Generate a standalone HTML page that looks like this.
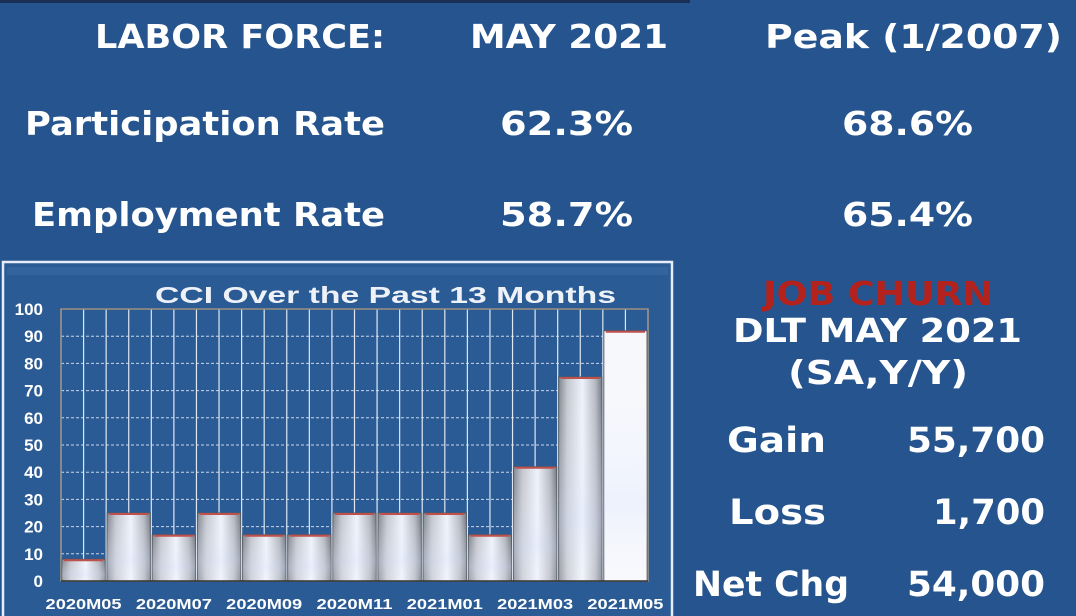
<!DOCTYPE html>
<html><head><meta charset="utf-8"><style>
html,body{margin:0;padding:0;background:#25548e;}
svg{display:block}
</style></head><body>
<svg width="1076" height="616" viewBox="0 0 1076 616" xmlns="http://www.w3.org/2000/svg">
<defs>
<linearGradient id="bar" x1="0" y1="0" x2="1" y2="0">
<stop offset="0" stop-color="#80858f"/><stop offset="0.2" stop-color="#c3c6ce"/><stop offset="0.55" stop-color="#eef2fb"/><stop offset="0.85" stop-color="#b3b7c0"/><stop offset="1" stop-color="#747983"/>
</linearGradient>
<linearGradient id="barv" x1="0" y1="0" x2="0" y2="1">
<stop offset="0" stop-color="#ffffff" stop-opacity="0"/><stop offset="0.7" stop-color="#dfe8ff" stop-opacity="0.4"/><stop offset="1" stop-color="#ffffff" stop-opacity="0.2"/>
</linearGradient>
</defs>
<rect width="1076" height="616" fill="#25548e"/>
<rect x="0" y="0" width="690" height="3" fill="#1a2f55"/>
<g font-family="'DejaVu Sans','Liberation Sans',sans-serif" font-weight="bold" fill="#fff" font-size="33">
<text x="95" y="48" textLength="290" lengthAdjust="spacingAndGlyphs">LABOR FORCE:</text>
<text x="470" y="48" textLength="198" lengthAdjust="spacingAndGlyphs">MAY 2021</text>
<text x="765" y="48" textLength="297" lengthAdjust="spacingAndGlyphs">Peak (1/2007)</text>
<text x="25" y="135" textLength="360" lengthAdjust="spacingAndGlyphs">Participation Rate</text>
<text x="500" y="135" textLength="133" lengthAdjust="spacingAndGlyphs">62.3%</text>
<text x="842" y="135" textLength="131" lengthAdjust="spacingAndGlyphs">68.6%</text>
<text x="32" y="226" textLength="353" lengthAdjust="spacingAndGlyphs">Employment Rate</text>
<text x="500" y="226" textLength="133" lengthAdjust="spacingAndGlyphs">58.7%</text>
<text x="842" y="226" textLength="131" lengthAdjust="spacingAndGlyphs">65.4%</text>
<text x="763" y="305" fill="#b3221c" textLength="230" lengthAdjust="spacingAndGlyphs">JOB CHURN</text>
<text x="733" y="342" textLength="289" lengthAdjust="spacingAndGlyphs">DLT MAY 2021</text>
<text x="788" y="384" textLength="180" lengthAdjust="spacingAndGlyphs">(SA,Y/Y)</text>
<text x="727" y="452" font-size="35" textLength="99" lengthAdjust="spacingAndGlyphs">Gain</text>
<text x="907" y="452" font-size="35" textLength="138" lengthAdjust="spacingAndGlyphs">55,700</text>
<text x="729" y="524" font-size="35" textLength="97" lengthAdjust="spacingAndGlyphs">Loss</text>
<text x="933" y="524" font-size="35" textLength="112" lengthAdjust="spacingAndGlyphs">1,700</text>
<text x="693" y="596" font-size="35" textLength="156" lengthAdjust="spacingAndGlyphs">Net Chg</text>
<text x="907" y="596" font-size="35" textLength="138" lengthAdjust="spacingAndGlyphs">54,000</text>
</g>
<rect x="3" y="262" width="669" height="356" fill="#2a5b94" stroke="#e6edf6" stroke-width="2.5"/>
<rect x="7" y="267" width="661" height="8" fill="#3a6aa3" opacity="0.6"/>
<text x="155" y="303" font-family="'Liberation Sans',sans-serif" font-weight="bold" font-size="23" fill="#eef2f8" textLength="461" lengthAdjust="spacingAndGlyphs">CCI Over the Past 13 Months</text>
<g stroke="#c9d6ea" stroke-width="1" stroke-dasharray="3,2" id="hg"></g>
<g stroke="#dfe7f3" stroke-width="1.2" id="vg"></g>
<rect x="61" y="309" width="587" height="272" fill="none" stroke="#9a9080" stroke-width="1.5"/>
<g id="bars"></g>
<line x1="61" y1="581" x2="648" y2="581" stroke="#333" stroke-width="1.5"/>
<g font-family="'Liberation Sans',sans-serif" font-weight="bold" font-size="17" fill="#fff" text-anchor="end" id="yl"></g>
<g font-family="'Liberation Sans',sans-serif" font-weight="bold" font-size="14.5" fill="#fff" text-anchor="middle" id="xl"></g>
<script>
var ns="http://www.w3.org/2000/svg";
var vals=[8,25,17,25,17,17,25,25,25,17,42,75,92];
var L=61,W=587/13,B=581,T=309,S=(B-T)/100;
function el(n,a,p){var e=document.createElementNS(ns,n);for(var k in a)e.setAttribute(k,a[k]);p.appendChild(e);return e;}
var vg=document.getElementById('vg'),hg=document.getElementById('hg'),bars=document.getElementById('bars'),xl=document.getElementById('xl'),yl=document.getElementById('yl');
for(var i=0;i<=26;i++){var x=L+i*W/2;el('line',{x1:x,x2:x,y1:T,y2:B},vg);}
for(var v=0;v<=100;v+=10){var y=B-v*S;if(v>0&&v<100)el('line',{x1:L,x2:648,y1:y,y2:y},hg);var t=el('text',{x:43,y:y+6},yl);t.textContent=v;}
var labs=["2020M05","2020M07","2020M09","2020M11","2021M01","2021M03","2021M05"];
for(var i=0;i<13;i++){
var x=L+i*W+1,w=W-2,h=vals[i]*S,y=B-h;
el('rect',{x:x,y:y,width:w,height:h,fill:i==12?'#f7f8fc':'url(#bar)',stroke:'#55595f','stroke-width':1},bars);
el('rect',{x:x,y:y,width:w,height:h,fill:'url(#barv)'},bars);
el('line',{x1:x+2,x2:x+w-2,y1:y+1,y2:y+1,stroke:'#c0504d','stroke-width':2},bars);
if(i%2==0){var tx=el('text',{x:L+i*W+W/2,y:609,textLength:76,lengthAdjust:'spacingAndGlyphs'},xl);tx.textContent=labs[i/2];}
}
</script>
</svg>
</body></html>
